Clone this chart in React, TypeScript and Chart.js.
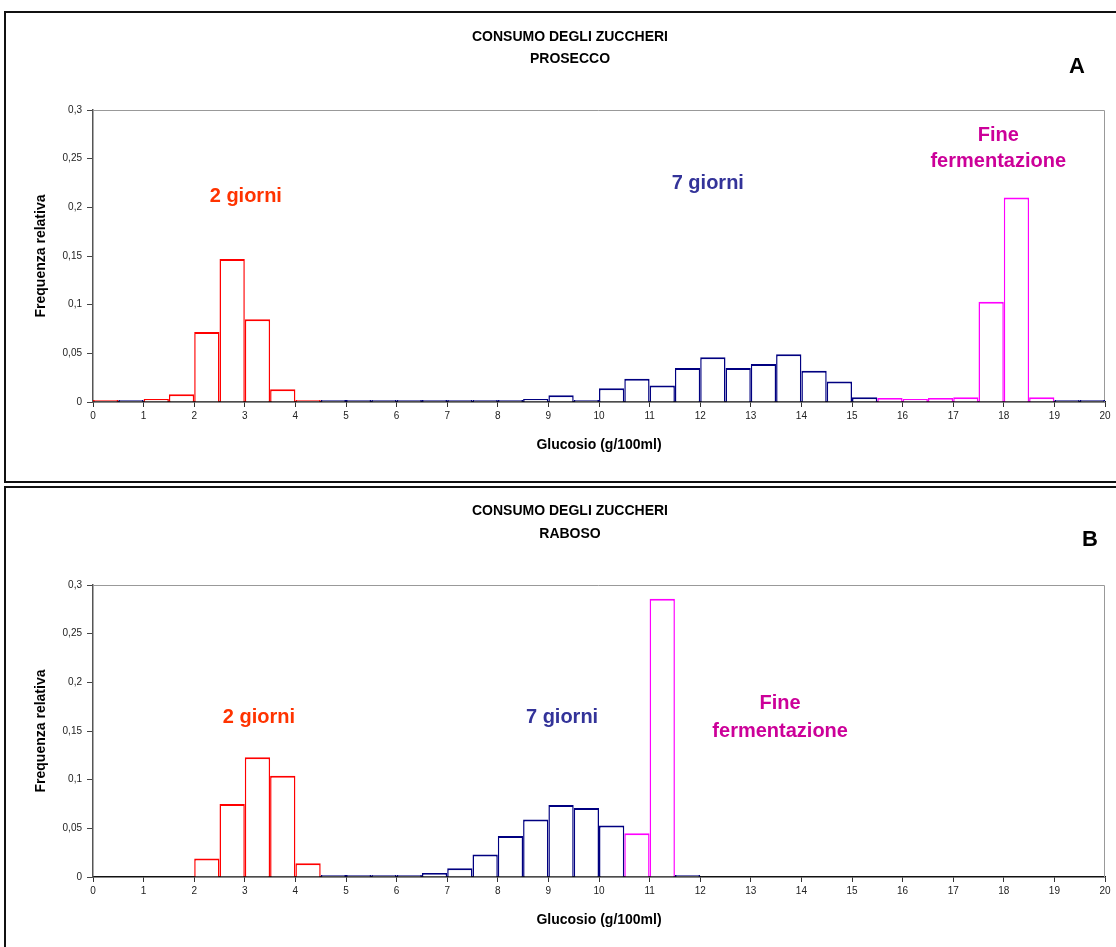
import React, { useEffect, useRef } from "react";
import { Chart, registerables } from "chart.js";

Chart.register(...registerables);

const FONT = "'Liberation Sans', Arial, Helvetica, sans-serif";

// Histogram bins: 0.5 g/100ml wide, centers from 0.25 to 19.75
const binCenters = [
  0.25, 0.75, 1.25, 1.75, 2.25, 2.75, 3.25, 3.75, 4.25, 4.75,
  5.25, 5.75, 6.25, 6.75, 7.25, 7.75, 8.25, 8.75, 9.25, 9.75,
  10.25, 10.75, 11.25, 11.75, 12.25, 12.75, 13.25, 13.75, 14.25, 14.75,
  15.25, 15.75, 16.25, 16.75, 17.25, 17.75, 18.25, 18.75, 19.25, 19.75,
];

const xTickStep = 1;
const yTickStep = 0.05;
const xMax = 20;
const yMax = 0.3;

// PROSECCO
const proseccoDay2 = [
  0.001, null, 0.003, 0.008, 0.072, 0.147, 0.085, 0.013, 0.001, null,
  null, null, null, null, null, null, null, null, null, null,
  null, null, null, null, null, null, null, null, null, null,
  null, null, null, null, null, null, null, null, null, null,
];
const proseccoDay7 = [
  null, 0, null, null, null, null, null, null, null, 0,
  0, 0, 0, 0, 0, 0.001, 0, 0.003, 0.007, 0.001,
  0.014, 0.024, 0.017, 0.035, 0.046, 0.035, 0.039, 0.049, 0.032, 0.021,
  0.005, null, null, null, null, null, null, null, 0, 0,
];
const proseccoEnd = [
  null, null, null, null, null, null, null, null, null, null,
  null, null, null, null, null, null, null, null, null, null,
  null, null, null, null, null, null, null, null, null, null,
  null, 0.004, 0.003, 0.004, 0.005, 0.103, 0.21, 0.005, null, null,
];

// RABOSO
const rabosoDay2 = [
  null, null, null, null, 0.019, 0.075, 0.123, 0.104, 0.014, null,
  null, null, null, null, null, null, null, null, null, null,
  null, null, null, null, null, null, null, null, null, null,
  null, null, null, null, null, null, null, null, null, null,
];
const rabosoDay7 = [
  null, null, null, null, null, null, null, null, null, 0,
  0, 0, 0, 0.004, 0.009, 0.023, 0.042, 0.059, 0.074, 0.071,
  0.053, null, null, 0.002, null, null, null, null, null, null,
  null, null, null, null, null, null, null, null, null, null,
];
const rabosoEnd = [
  null, null, null, null, null, null, null, null, null, null,
  null, null, null, null, null, null, null, null, null, null,
  null, 0.045, 0.286, null, null, null, null, null, null, null,
  null, null, null, null, null, null, null, null, null, null,
];

const seriesNames = ["2 giorni", "7 giorni", "Fine fermentazione"];
const barColors = ["#FF0000", "#000080", "#FF00FF"];
const textColors = ["#FF3300", "#333399", "#CC0099", "#CC0099"];

const labelTexts = ["2 giorni", "7 giorni", "Fine", "fermentazione"];
const proseccoLabelX = [3.02, 12.15, 17.89, 17.89];
const proseccoLabelY = [0.211, 0.224, 0.274, 0.247];
const rabosoLabelX = [3.28, 9.27, 13.58, 13.58];
const rabosoLabelY = [0.164, 0.164, 0.178, 0.15];

const mainTitle = "CONSUMO DEGLI ZUCCHERI";
const xTitle = "Glucosio (g/100ml)";
const yTitle = "Frequenza relativa";

function toPoints(vals: (number | null)[]) {
  const pts: { x: number; y: number }[] = [];
  vals.forEach((v, i) => {
    if (v !== null) pts.push({ x: binCenters[i], y: v });
  });
  return pts;
}

function fmt(v: number) {
  const r = Math.round(v * 100) / 100;
  return String(r).replace(".", ",");
}

type PanelProps = {
  top: number;
  height: number;
  plotTop: number;
  plotBottom: number;
  subtitle: string;
  letter: string;
  letterX: number;
  letterY: number;
  titleY1: number;
  titleY2: number;
  series: (number | null)[][];
  labelX: number[];
  labelY: number[];
};

function Panel(p: PanelProps) {
  const ref = useRef<HTMLCanvasElement | null>(null);
  useEffect(() => {
    if (!ref.current) return;
    const xAxisHeight = 56;
    const decor = {
      id: "decor",
      beforeDatasetsDraw(chart: any) {
        const { ctx, chartArea } = chart;
        ctx.save();
        ctx.strokeStyle = "#999";
        ctx.lineWidth = 1;
        ctx.beginPath();
        ctx.moveTo(chartArea.left, chartArea.top + 0.5);
        ctx.lineTo(chartArea.right - 0.5, chartArea.top + 0.5);
        ctx.lineTo(chartArea.right - 0.5, chartArea.bottom);
        ctx.stroke();
        ctx.restore();
      },
      afterDraw(chart: any) {
        const { ctx, scales } = chart;
        ctx.save();
        ctx.textAlign = "center";
        ctx.textBaseline = "middle";
        ctx.fillStyle = "#000";
        ctx.font = `bold 14px ${FONT}`;
        ctx.fillText(mainTitle, 570, p.titleY1);
        ctx.fillText(p.subtitle, 570, p.titleY2);
        ctx.font = `bold 22px ${FONT}`;
        ctx.fillText(p.letter, p.letterX, p.letterY);
        ctx.font = `bold 20px ${FONT}`;
        labelTexts.forEach((t, i) => {
          ctx.fillStyle = textColors[i];
          ctx.fillText(
            t,
            scales.x.getPixelForValue(p.labelX[i]),
            scales.y.getPixelForValue(p.labelY[i])
          );
        });
        ctx.restore();
      },
    };
    const chart = new Chart(ref.current, {
      type: "bar",
      data: {
        datasets: p.series.map((vals, i) => ({
          label: seriesNames[i],
          data: toPoints(vals),
          backgroundColor: "rgba(255,255,255,1)",
          borderColor: barColors[i],
          borderWidth: { top: 2, left: 1.5, right: 1.5, bottom: 0 },
          borderSkipped: "start",
          inflateAmount: 0,
          minBarLength: 2,
          barPercentage: 1,
          categoryPercentage: 1,
          grouped: false,
        })) as any,
      },
      options: {
        animation: false,
        responsive: false,
        devicePixelRatio: 1,
        layout: {
          padding: {
            left: 29,
            right: 11,
            top: p.plotTop,
            bottom: p.height - p.plotBottom - xAxisHeight,
          },
        },
        plugins: {
          legend: { display: false },
          title: { display: false },
          tooltip: { enabled: false },
        },
        scales: {
          x: {
            type: "linear",
            min: 0,
            max: xMax,
            offset: false,
            ticks: {
              stepSize: xTickStep,
              autoSkip: false,
              maxRotation: 0,
              color: "#222",
              font: { size: 10, family: FONT },
              padding: 3,
            },
            grid: {
              offset: false,
              drawOnChartArea: false,
              tickLength: 5,
              color: "#333",
            },
            border: { color: "#111", width: 1.5 },
            title: {
              display: true,
              text: xTitle,
              color: "#000",
              font: { size: 14, weight: "bold", family: FONT },
              padding: { top: 4, bottom: 4 },
            },
            afterFit: (s: any) => {
              s.height = xAxisHeight;
            },
          },
          y: {
            min: 0,
            max: yMax,
            ticks: {
              stepSize: yTickStep,
              color: "#222",
              font: { size: 10, family: FONT },
              padding: 5,
              callback: (v: any) => fmt(Number(v)),
            },
            grid: {
              drawOnChartArea: false,
              tickLength: 6,
              color: "#444",
            },
            border: { color: "#555", width: 1.5 },
            title: {
              display: true,
              text: yTitle,
              color: "#000",
              font: { size: 14, weight: "bold", family: FONT },
              padding: { top: 4, bottom: 4 },
            },
            afterFit: (s: any) => {
              s.width = 64;
            },
          },
        },
      } as any,
      plugins: [decor],
    });
    return () => chart.destroy();
  }, []);
  return (
    <canvas
      ref={ref}
      width={1116}
      height={p.height}
      style={{
        position: "absolute",
        left: 0,
        top: p.top,
        width: 1116,
        height: p.height,
        display: "block",
      }}
    />
  );
}

export default function App() {
  useEffect(() => {
    document.body.style.margin = "0";
    document.body.style.background = "#fff";
  }, []);
  return (
    <div
      style={{
        position: "relative",
        width: 1116,
        height: 947,
        overflow: "hidden",
        background: "#fff",
      }}
    >
      <div
        style={{
          position: "absolute",
          left: 4,
          top: 11,
          width: 1140,
          height: 468,
          border: "2px solid #111",
        }}
      />
      <div
        style={{
          position: "absolute",
          left: 4,
          top: 486,
          width: 1140,
          height: 500,
          border: "2px solid #111",
        }}
      />
      <Panel
        top={0}
        height={482}
        plotTop={110}
        plotBottom={402}
        subtitle="PROSECCO"
        letter="A"
        letterX={1077}
        letterY={67}
        titleY1={37}
        titleY2={59}
        series={[proseccoDay2, proseccoDay7, proseccoEnd]}
        labelX={proseccoLabelX}
        labelY={proseccoLabelY}
      />
      <Panel
        top={482}
        height={465}
        plotTop={103}
        plotBottom={395}
        subtitle="RABOSO"
        letter="B"
        letterX={1090}
        letterY={58}
        titleY1={29}
        titleY2={52}
        series={[rabosoDay2, rabosoDay7, rabosoEnd]}
        labelX={rabosoLabelX}
        labelY={rabosoLabelY}
      />
    </div>
  );
}
